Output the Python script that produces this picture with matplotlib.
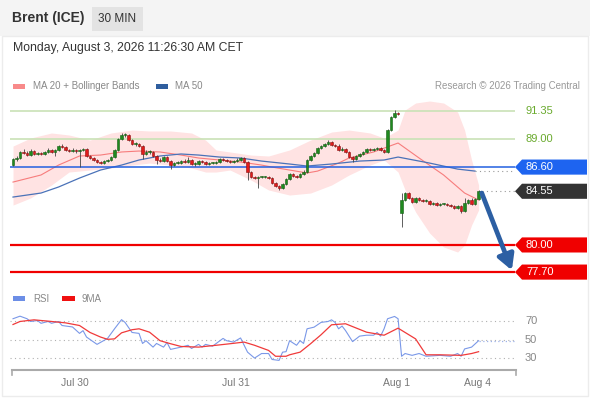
import numpy as np
import matplotlib.pyplot as plt
from matplotlib.patches import Polygon, Rectangle
from matplotlib.lines import Line2D
from matplotlib.transforms import blended_transform_factory

plt.rcParams["font.family"] = ["Liberation Sans", "DejaVu Sans"]

# 30-min candles, Brent (ICE)
close = [87.28, 87.37, 87.88, 87.79, 87.62, 87.96, 87.71, 87.79, 87.71, 87.88,
         88.05, 87.88, 88.05, 88.38, 88.30, 88.05, 87.96, 88.05, 87.96, 88.05,
         88.13, 87.54, 87.37, 87.20, 87.03, 86.94, 87.11, 87.20, 87.45, 88.05,
         88.98, 89.32, 89.32, 88.89, 88.55, 88.55, 88.38, 87.71, 87.88, 87.88,
         87.54, 87.20, 87.11, 87.45, 87.11, 86.77, 86.94, 86.94, 87.11, 87.03,
         87.20, 86.86, 86.86, 87.11, 87.03, 86.86, 86.94, 86.94, 87.03, 87.28,
         87.20, 87.11, 87.03, 87.11, 87.20, 87.37, 87.03, 86.18, 85.76, 85.67,
         85.76, 85.76, 85.76, 85.67, 85.25, 85.00, 84.83, 85.16, 85.59, 86.01,
         85.84, 85.76, 86.01, 86.18, 87.20, 87.54, 87.79, 88.21, 88.38, 88.55,
         88.72, 88.47, 88.38, 88.05, 88.13, 87.88, 87.45, 87.28, 87.54, 87.71,
         87.88, 88.13, 88.05, 88.13, 88.21, 88.05, 87.88, 89.74, 90.84, 91.18,
         91.10, 83.81, 84.40, 83.98, 83.64, 83.98, 83.81, 83.72, 83.72, 83.47,
         83.55, 83.38, 83.47, 83.47, 83.38, 83.30, 83.13, 83.30, 82.88, 83.55,
         83.81, 83.47, 83.89, 84.55]
high = [87.35, 87.50, 88.00, 88.10, 87.95, 88.10, 88.05, 87.90, 87.88, 88.00,
        88.20, 88.13, 88.15, 88.47, 88.55, 88.38, 88.13, 88.21, 88.13, 88.13,
        88.21, 88.21, 87.62, 87.45, 87.28, 87.11, 87.20, 87.28, 87.54, 88.13,
        89.06, 89.49, 89.49, 89.40, 88.98, 88.72, 88.64, 88.47, 88.05, 88.05,
        87.96, 87.62, 87.37, 87.54, 87.54, 87.20, 87.03, 87.11, 87.20, 87.28,
        87.45, 87.28, 87.03, 87.20, 87.20, 87.11, 87.03, 87.03, 87.11, 87.37,
        87.37, 87.28, 87.20, 87.20, 87.37, 87.45, 87.45, 87.11, 86.26, 85.84,
        85.84, 85.84, 85.84, 85.84, 85.76, 85.33, 85.08, 85.25, 85.67, 86.10,
        86.10, 85.93, 86.10, 86.35, 87.28, 87.62, 87.88, 88.30, 88.47, 88.64,
        88.89, 88.80, 88.55, 88.55, 88.30, 88.21, 87.96, 87.54, 87.62, 87.80,
        87.96, 88.21, 88.21, 88.21, 88.30, 88.30, 88.13, 89.82, 90.92, 91.43,
        91.27, 84.40, 84.49, 84.49, 84.06, 84.06, 84.06, 83.89, 83.89, 83.81,
        83.64, 83.64, 83.55, 83.55, 83.55, 83.47, 83.38, 83.38, 83.38, 83.98,
        83.89, 83.98, 83.98, 84.64]
low = [86.70, 87.10, 87.30, 87.70, 87.55, 87.55, 87.65, 87.62, 87.62, 87.65,
       87.80, 87.80, 87.54, 88.00, 88.20, 87.96, 87.88, 87.88, 87.80, 86.60,
       87.96, 87.45, 87.28, 87.11, 86.94, 86.86, 86.86, 87.03, 87.11, 87.37,
       87.96, 88.89, 89.15, 88.80, 88.47, 88.38, 88.30, 87.28, 87.62, 87.71,
       87.45, 86.86, 87.03, 87.03, 87.03, 86.40, 86.69, 86.86, 86.86, 86.94,
       86.94, 86.77, 86.69, 86.77, 86.94, 86.77, 86.77, 86.86, 86.86, 86.94,
       87.11, 87.03, 86.94, 86.94, 87.03, 87.11, 86.94, 85.50, 85.67, 85.59,
       84.83, 85.67, 85.67, 85.59, 85.16, 84.91, 84.66, 84.74, 85.08, 85.50,
       85.76, 85.67, 85.67, 85.93, 86.10, 87.11, 87.45, 87.71, 88.13, 88.30,
       88.47, 88.38, 88.30, 87.96, 87.96, 87.80, 87.37, 87.03, 87.20, 87.45,
       87.62, 87.80, 87.96, 87.96, 88.05, 87.96, 87.80, 87.80, 89.66, 90.75,
       91.01, 81.52, 83.72, 83.89, 83.55, 83.55, 83.72, 83.64, 83.64, 83.38,
       83.38, 83.30, 83.30, 83.38, 83.30, 83.21, 83.04, 83.04, 82.71, 82.80,
       83.47, 83.38, 83.38, 83.81]
first_open = 86.77
gap_index = 111      # weekend gap
gap_open = 82.71

# moving averages / bands (candle index, price)
ma20_idx = [0, 8, 13, 19, 25, 31, 36, 42, 48, 53, 59, 65, 71, 74, 84, 87, 93, 96, 103, 110, 116, 123, 129, 133]
ma20_val = [85.33, 85.93, 86.77, 87.54, 87.62, 87.88, 87.96, 87.88, 87.62, 87.37, 87.20, 87.03,
            86.77, 86.60, 86.10, 86.26, 86.94, 87.37, 87.88, 88.64, 87.37, 85.93, 84.40, 83.81]
ma50_idx = [0, 8, 13, 19, 25, 31, 36, 42, 48, 53, 59, 65, 71, 79, 84, 91, 99, 106, 110, 119, 127, 132]
ma50_val = [84.06, 84.40, 84.91, 85.67, 86.35, 86.77, 87.20, 87.54, 87.71, 87.62, 87.45, 87.37,
            87.11, 86.86, 86.69, 86.86, 87.11, 87.20, 87.45, 86.94, 86.43, 86.26]
band_idx = [0, 5, 11, 16, 22, 28, 34, 39, 45, 51, 55, 58, 62, 68, 73, 79, 85, 91, 96, 102, 106,
            110, 112, 115, 119, 123, 127, 129, 131, 133]
band_up = [88.38, 89.06, 89.49, 89.32, 88.89, 89.49, 89.74, 89.66, 89.66, 89.49, 88.89, 88.05,
           87.88, 87.62, 87.54, 88.05, 88.89, 89.57, 89.74, 89.49, 89.06,
           89.74, 91.44, 92.03, 92.20, 92.03, 91.27, 89.74, 87.20, 85.08]
band_low = [83.38, 83.98, 85.08, 86.18, 86.35, 86.52, 86.77, 86.94, 86.77, 86.52, 86.18, 86.18,
            86.35, 85.50, 84.66, 84.23, 84.40, 85.08, 85.93, 86.77, 87.20,
            86.18, 84.66, 82.79, 81.01, 79.83, 79.40, 79.99, 81.69, 82.96]

# RSI and its 9MA (candle index, value)
rsi_idx = [0, 2, 4, 5, 7, 8, 10, 11, 13, 14, 17, 19, 20, 21, 24, 27, 29, 31, 32, 34, 36, 37, 38,
           40, 41, 43, 44, 45, 48, 50, 51, 53, 54, 55, 57, 60, 61, 63, 65, 67, 69, 71, 73, 74, 76,
           77, 78, 79, 81, 82, 83, 84, 86, 88, 90, 91, 92, 93, 94, 95, 97, 99, 101, 103, 104, 105,
           106, 107, 109, 110, 111, 112, 114, 116, 118, 122, 125, 127, 128, 129, 131, 133]
rsi_val = [73, 75.8, 73, 70, 71, 68, 70, 68, 70, 65.6, 64, 57, 60, 53, 45, 51.5, 62, 72, 69, 58,
           57, 46, 49, 42, 46, 42, 47, 39.5, 42, 44, 40.5, 45, 42, 45, 43, 51.5, 49, 47.5, 52, 36.5,
           30, 35, 35, 28.5, 27.5, 36.5, 37, 49, 44, 49, 46, 62, 63.8, 69, 70, 71.8, 69, 62, 65, 60,
           48, 54, 55, 55, 58, 54, 62, 73, 75.5, 73, 32, 35, 33, 35, 32, 33, 32, 35, 32, 40, 42, 49]
rsi_ma_idx = [0, 2, 6, 11, 15, 19, 22, 25, 27, 29, 31, 34, 36, 39, 42, 45, 48, 53, 58, 62, 66, 69,
              73, 75, 78, 79, 82, 85, 88, 91, 95, 101, 106, 110, 115, 118, 122, 128, 131, 133]
rsi_ma_val = [66.7, 70, 71.8, 70, 68.5, 65.6, 58, 53, 50.5, 51, 57.6, 61, 62, 58.3, 49, 45.7, 42.7,
              42, 44, 45.7, 47.5, 44, 38.4, 32, 32, 33.6, 36.5, 45.7, 55.5, 66.4, 67.5, 58.3, 55,
              62.7, 51, 33.6, 33.6, 33, 35, 37]

levels = [91.35, 89.00, 86.60, 84.55, 80.00, 77.70]
day_pos = [17.7, 63.7, 109.7, 132.6]
day_labels = ["Jul 30", "Jul 31", "Aug 1", "Aug 4"]

W, H = 590, 400
fig = plt.figure(figsize=(W / 100, H / 100), dpi=100)
fig.patch.set_facecolor("white")


def fx(px):
    return px / W


def fy(py):
    return 1 - py / H


# header and frame
fig.add_artist(Rectangle((0, fy(36)), 1, 36 / H, transform=fig.transFigure,
                         facecolor="#f4f4f4", edgecolor="none", zorder=0))
fig.add_artist(Rectangle((fx(92), fy(31)), 51 / W, 24 / H, transform=fig.transFigure,
                         facecolor="#e3e3e3", edgecolor="none", zorder=1))
fig.add_artist(Rectangle((fx(2), fy(396)), fx(586), 360 / H, transform=fig.transFigure,
                         facecolor="none", edgecolor="#ececec", lw=1, zorder=1))
fig.text(fx(12), fy(18), "Brent (ICE)", fontsize=10, fontweight="bold", color="#333333", va="center")
fig.text(fx(117.5), fy(19), "30 MIN", fontsize=8.5, color="#333333", va="center", ha="center")
fig.text(fx(13), fy(48), "Monday, August 3, 2026 11:26:30 AM CET", fontsize=8.8,
         color="#333333", va="center")

# legend row
fig.add_artist(Rectangle((fx(13), fy(89)), 12 / W, 5 / H, transform=fig.transFigure,
                         facecolor="#f88a8a", edgecolor="none"))
fig.text(fx(33), fy(86), "MA 20 + Bollinger Bands", fontsize=7, color="#888888", va="center")
fig.add_artist(Rectangle((fx(156), fy(89)), 12 / W, 5 / H, transform=fig.transFigure,
                         facecolor="#2f5e9e", edgecolor="none"))
fig.text(fx(175), fy(86), "MA 50", fontsize=7, color="#888888", va="center")
fig.text(fx(580), fy(86), "Research \u00a9 2026 Trading Central", fontsize=7, color="#999999",
         va="center", ha="right")

# price panel
ax = fig.add_axes([fx(10), fy(282), 505 / W, 185 / H])
ax.set_xlim(-0.86, 143.4)
ax.set_ylim(76.86, 92.54)
ax.axis("off")

ax.fill_between(band_idx, band_low, band_up, color="#ffe3e3", lw=0, zorder=1)
ax.plot(ma20_idx, ma20_val, color="#f77c7c", lw=0.8, zorder=2)
ax.plot(ma50_idx, ma50_val, color="#4a72b8", lw=0.9, zorder=2)

ax.axhline(91.35, color="#c9e2b6", lw=1.2, zorder=1)
ax.axhline(89.00, color="#c9e2b6", lw=1.2, zorder=1)
ax.axhline(86.60, color="#2360e0", lw=1.1, zorder=3)
ax.axhline(80.00, color="#f00000", lw=1.6, zorder=3)
ax.axhline(77.70, color="#f00000", lw=1.6, zorder=3)

n = len(close)
x = np.arange(n)
opens = [first_open] + close[:-1]
opens[gap_index] = gap_open
o = np.array(opens)
c = np.array(close)
up = c >= o
ax.vlines(x, low, high, color="#444444", lw=0.6, zorder=4)
body = np.maximum(np.abs(c - o), 0.05)
ax.bar(x[up], body[up], bottom=np.minimum(o, c)[up], width=0.75, color="#1f8a1f",
       edgecolor="#145c14", lw=0.4, zorder=5)
ax.bar(x[~up], body[~up], bottom=np.minimum(o, c)[~up], width=0.75, color="#e01b1b",
       edgecolor="#8a1010", lw=0.4, zorder=5)

ax.plot([ma50_idx[-1], 143.4], [ma50_val[-1], ma50_val[-1]], color="#999999", lw=0.8,
        ls=(0, (1, 3)), zorder=2)
ax.plot([n, 143.4], [close[-1], close[-1]], color="#999999", lw=0.8, ls=(0, (1, 3)), zorder=2)

ax.annotate("", xy=(142.5, 77.85), xytext=(133.9, 84.4),
            arrowprops=dict(arrowstyle="-|>,head_width=0.5,head_length=0.9",
                            color="#2c5fa3", lw=3.4, shrinkA=0, shrinkB=0), zorder=6)

trans = blended_transform_factory(fig.transFigure, ax.transData)
ax.text(fx(525), 91.35, "91.35", transform=trans, fontsize=8, color="#6aaa2e", va="center")
ax.text(fx(525), 89.00, "89.00", transform=trans, fontsize=8, color="#6aaa2e", va="center")
box_colors = {86.60: "#1e64f0", 84.55: "#333333", 80.00: "#f00000", 77.70: "#f00000"}
hh = 0.64
for lv, col in box_colors.items():
    pts = [(fx(515), lv), (fx(522), lv + hh), (fx(587), lv + hh), (fx(587), lv - hh), (fx(522), lv - hh)]
    ax.add_patch(Polygon(pts, closed=True, transform=trans, facecolor=col, edgecolor="none",
                         clip_on=False, zorder=7))
    ax.text(fx(526), lv, f"{lv:.2f}", transform=trans, fontsize=8, color="white", va="center",
            zorder=8)

# RSI panel
fig.add_artist(Rectangle((fx(13), fy(301)), 12 / W, 5 / H, transform=fig.transFigure,
                         facecolor="#6c8ee6", edgecolor="none"))
fig.text(fx(33), fy(299), "RSI", fontsize=7, color="#888888", va="center")
fig.add_artist(Rectangle((fx(62), fy(301)), 13 / W, 5 / H, transform=fig.transFigure,
                         facecolor="#f01010", edgecolor="none"))
fig.text(fx(82), fy(299), "9MA", fontsize=7, color="#888888", va="center")

ax2 = fig.add_axes([fx(10), fy(370), 505 / W, 65 / H])
ax2.set_xlim(-0.86, 143.4)
ax2.set_ylim(17, 88)
ax2.axis("off")
for lv in (70, 50, 30):
    ax2.axhline(lv, color="#b0b0b0", lw=0.8, ls=(0, (1, 3)), zorder=1)
    ax2.text(fx(525), lv, str(lv), transform=blended_transform_factory(fig.transFigure, ax2.transData),
             fontsize=8, color="#888888", va="center")
ax2.plot(rsi_idx, rsi_val, color="#7a98e8", lw=0.8, zorder=3)
ax2.plot(rsi_ma_idx, rsi_ma_val, color="#f03a3a", lw=0.9, zorder=3)
ax2.plot([rsi_idx[-1], 143.4], [rsi_val[-1], rsi_val[-1]], color="#9fb3ea", lw=0.9,
         ls=(0, (1, 2)), zorder=2)

# time axis
fig.add_artist(Line2D([fx(12), fx(516)], [fy(370), fy(370)], transform=fig.transFigure,
                      color="#aaaaaa", lw=1.5))
for px in (12, 516):
    fig.add_artist(Line2D([fx(px), fx(px)], [fy(370), fy(375)], transform=fig.transFigure,
                          color="#aaaaaa", lw=1.2))
tt = blended_transform_factory(ax2.transData, fig.transFigure)
for p, lab in zip(day_pos, day_labels):
    ax2.text(p, fy(383), lab, transform=tt, fontsize=7.5, color="#777777", ha="center", va="center")

fig.savefig("out.png", dpi=100)
